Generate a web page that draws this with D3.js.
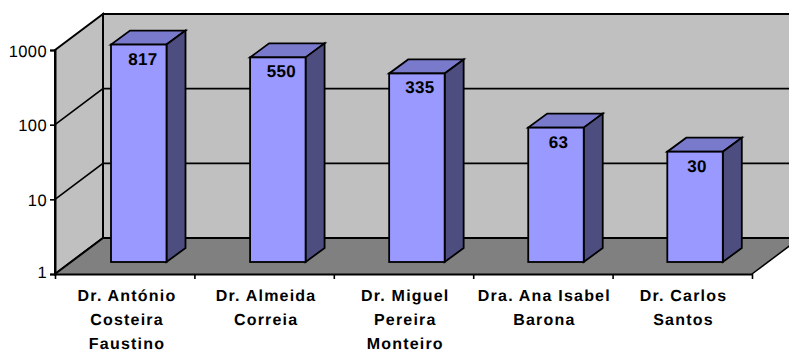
<!DOCTYPE html>
<html>
<head>
<meta charset="utf-8">
<script src="https://d3js.org/d3.v7.min.js"></script>
<style>
html,body{margin:0;padding:0;background:#fff}
svg{display:block}
text{font-family:"Liberation Sans",Arial,sans-serif;fill:#000;text-rendering:geometricPrecision}
</style>
</head>
<body>
<svg id="chart" width="789" height="351"></svg>
<script>
const doctors = [
  ["Dr. António","Costeira","Faustino"],
  ["Dr. Almeida","Correia"],
  ["Dr. Miguel","Pereira","Monteiro"],
  ["Dra. Ana Isabel","Barona"],
  ["Dr. Carlos","Santos"]
];
const counts = [817, 550, 335, 63, 30];
const yTicks = [1, 10, 100, 1000];

const svg = d3.select("#chart");

// Front plane of the plot box and the oblique depth of the 3D projection
const plotLeft = 55, plotRight = 752, plotBase = 274, plotTop = 50;
const depthX = 48, depthY = -36;
const barInsetY = 12;
const barDepthX = 19, barDepthY = -14;

const y = d3.scaleLog().domain([1, 1000]).range([plotBase, plotTop]);
const slots = d3.scaleLinear().domain([0, doctors.length]).range([plotLeft, plotRight]);
const indices = d3.range(doctors.length);
const x = d3.scalePoint().domain(indices).range([111, 667.3]);
const valueX = d3.scalePoint().domain(indices).range([143, 697]);
const nameX = d3.scalePoint().domain(indices).range([127, 683.5]);
const barW = 55.5;

const pts = a => a.map(p => p.join(",")).join(" ");
const ink = "#000";

// Walls and floor
svg.append("polygon")
  .attr("points", pts([[plotLeft + depthX, y(1000) + depthY], [plotRight + depthX, y(1000) + depthY], [plotRight + depthX, plotBase + depthY], [plotLeft + depthX, plotBase + depthY]]))
  .attr("fill", "#C0C0C0").attr("stroke", ink).attr("stroke-width", 2);
svg.append("polygon")
  .attr("points", pts([[plotLeft, y(1000)], [plotLeft + depthX, y(1000) + depthY], [plotLeft + depthX, plotBase + depthY], [plotLeft, plotBase]]))
  .attr("fill", "#C0C0C0").attr("stroke", ink).attr("stroke-width", 2);
svg.append("polygon")
  .attr("points", pts([[plotLeft, plotBase], [plotLeft + depthX, plotBase + depthY], [plotRight + depthX, plotBase + depthY], [plotRight, plotBase]]))
  .attr("fill", "#808080").attr("stroke", "none");
svg.append("path")
  .attr("d", d3.line()([[plotLeft, plotBase], [plotLeft + depthX, plotBase + depthY], [plotRight + depthX, plotBase + depthY]]))
  .attr("fill", "none").attr("stroke", ink).attr("stroke-width", 2);
svg.append("path")
  .attr("d", d3.line()([[plotRight + depthX, plotBase + depthY], [plotRight, plotBase]]))
  .attr("fill", "none").attr("stroke", ink).attr("stroke-width", 1.5);

// Gridlines running along the side wall and across the back wall
svg.append("g").selectAll("path").data(yTicks.slice(1, 3)).join("path")
  .attr("d", v => d3.line()([[plotLeft, y(v)], [plotLeft + depthX, y(v) + depthY], [plotRight + depthX, y(v) + depthY]]))
  .attr("fill", "none").attr("stroke", ink).attr("stroke-width", 1.6);

// Axes on the front plane
const yAxis = d3.axisLeft(y).tickValues(yTicks).tickFormat(d3.format("d")).tickSize(5).tickPadding(3);
const gy = svg.append("g").attr("transform", `translate(${plotLeft},0)`).call(yAxis);
gy.selectAll("text")
  .style("font-size", "16.5px").style("letter-spacing", "0.4px")
  .attr("fill", "#000")
  .attr("y", d => d === 1 ? -2 : 1);
gy.selectAll("line").attr("stroke", ink).attr("stroke-width", 1.6);
gy.select(".domain").attr("stroke", ink).attr("stroke-width", 2);

const xAxis = d3.axisBottom(slots).tickValues(d3.range(doctors.length + 1)).tickFormat("").tickSize(5).tickSizeOuter(0);
const gx = svg.append("g").attr("transform", `translate(0,${plotBase})`).call(xAxis);
gx.selectAll("line").attr("stroke", ink).attr("stroke-width", 1.6);
gx.select(".domain").attr("stroke", ink).attr("stroke-width", 2);

// Bars, each a front face, a lit top and a shaded side
const bars = svg.append("g").selectAll("g").data(counts).join("g");
const by = d => y(d) - barInsetY;
const by0 = () => y(1) - barInsetY;

function styled(sel, fill) {
  sel.attr("fill", fill).attr("stroke", ink).attr("stroke-width", 1.8).attr("stroke-linejoin", "miter");
}
bars.append("polygon")
  .attr("points", (d, i) => pts([[x(i), by(d)], [x(i) + barW, by(d)], [x(i) + barW + barDepthX, by(d) + barDepthY], [x(i) + barDepthX, by(d) + barDepthY]]))
  .call(styled, "#7A7ACC");
bars.append("polygon")
  .attr("points", (d, i) => pts([[x(i) + barW, by(d)], [x(i) + barW + barDepthX, by(d) + barDepthY], [x(i) + barW + barDepthX, by0() + barDepthY], [x(i) + barW, by0()]]))
  .call(styled, "#4D4D80");
bars.append("rect")
  .attr("x", (d, i) => x(i)).attr("y", by)
  .attr("width", barW).attr("height", d => by0() - by(d))
  .call(styled, "#9999FF");

// Value labels inside the front faces
bars.append("text")
  .attr("x", (d, i) => valueX(i))
  .attr("y", d => by(d) + 20)
  .attr("text-anchor", "middle")
  .style("font-size", "17px").style("font-weight", "bold").style("letter-spacing", "0.3px")
  .text(d => d);

// Category names, wrapped over up to three lines
const names = svg.append("g").selectAll("text").data(doctors).join("text")
  .attr("text-anchor", "middle")
  .style("font-size", "16px").style("font-weight", "bold").style("letter-spacing", "1.2px");
names.selectAll("tspan").data((d, i) => d.map(line => ({ line, i }))).join("tspan")
  .attr("x", d => nameX(d.i))
  .attr("y", (d, j) => 300.5 + j * 24)
  .text(d => d.line);
</script>
</body>
</html>
